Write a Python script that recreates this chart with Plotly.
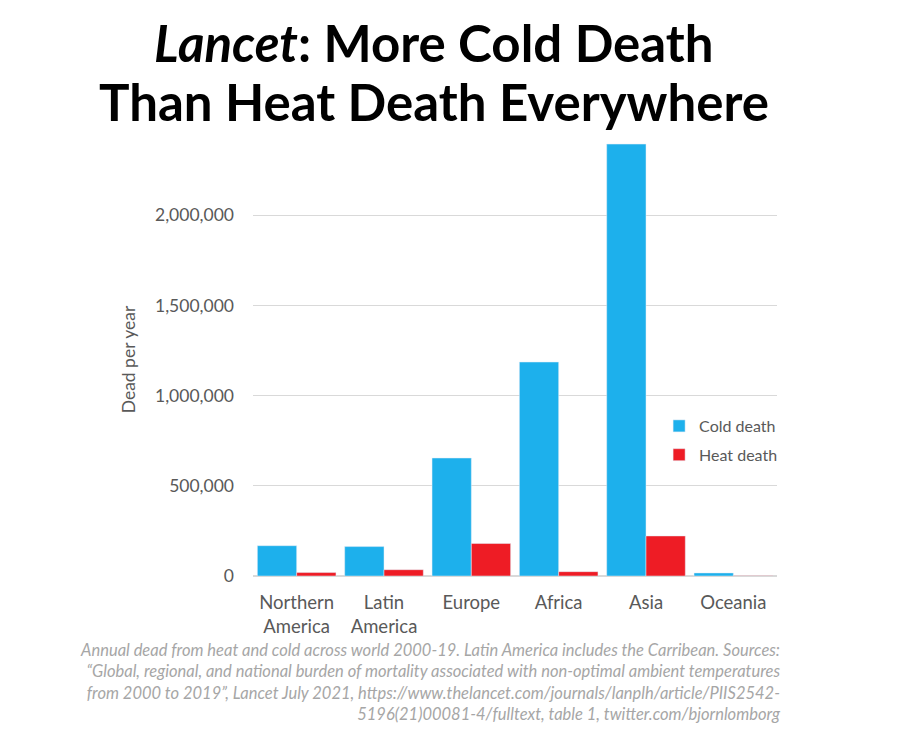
import plotly.graph_objects as go

regions = ["Northern<br>America", "Latin<br>America", "Europe", "Africa", "Asia", "Oceania"]
cold_death = [168000, 163000, 654000, 1186000, 2394000, 17000]
heat_death = [19000, 35000, 180000, 24000, 222000, 1000]
y_ticks = [0, 500000, 1000000, 1500000, 2000000]

grey = "#595959"

# page body adds ~8px, so the figure is drawn slightly smaller than the window
W, H = 892, 730
L, R, T, B = 245, 123, 135, 162
plot_w = W - L - R
plot_h = H - T - B


def px_x(p):
    return (p - L) / plot_w


def px_y(p):
    return (H - B - p) / plot_h


fig = go.Figure()
fig.add_bar(x=regions, y=cold_death, name="Cold death", marker_color="#1DB0EC",
            legendgroup="cold")
fig.add_bar(x=regions, y=heat_death, name="Heat death", marker_color="#EE1C25",
            legendgroup="heat")

fig.update_layout(
    width=W,
    height=H,
    barmode="group",
    bargap=0.1,
    bargroupgap=0,
    plot_bgcolor="white",
    paper_bgcolor="white",
    font=dict(family="Lato", color=grey, size=17),
    margin=dict(l=L, r=R, t=T, b=B),
    legend=dict(
        x=0.775, y=px_y(401), xanchor="left", yanchor="top",
        font=dict(size=16, color=grey),
        bgcolor="rgba(0,0,0,0)",
        traceorder="grouped",
        tracegroupgap=5,
    ),
    showlegend=True,
)

fig.update_yaxes(
    range=[0, 2400000],
    tickvals=y_ticks,
    tickformat=",",
    showgrid=True,
    gridcolor="#d9d9d9",
    zeroline=True,
    zerolinecolor="#d9d9d9",
    ticks="",
    ticklabelstandoff=18,
    tickfont=dict(size=17.5, color=grey),
    title=dict(text="Dead per year", font=dict(size=17.5, color=grey), standoff=14),
)
fig.update_xaxes(showline=False, ticks="", ticklabelstandoff=13,
                 tickfont=dict(size=18.5, color=grey))

# title, two lines
title_font = dict(family="Lato", size=51, color="black", weight="bold")
fig.add_annotation(text="<i>Lancet</i>: More Cold Death", xref="paper", yref="paper",
                   x=px_x(426), y=px_y(34), xanchor="center", yanchor="middle",
                   showarrow=False, font=title_font)
fig.add_annotation(text="Than Heat Death Everywhere", xref="paper", yref="paper",
                   x=px_x(426), y=px_y(93), xanchor="center", yanchor="middle",
                   showarrow=False, font=title_font)

fig.add_annotation(
    text="<i>Annual dead from heat and cold across world 2000-19. Latin America includes the Carribean. Sources:<br>"
         "\u201cGlobal, regional, and national burden of mortality associated with non-optimal ambient temperatures<br>"
         "from 2000 to 2019\u201d, Lancet July 2021, https://www.thelancet.com/journals/lanplh/article/PIIS2542-<br>"
         "5196(21)00081-4/fulltext, table 1, twitter.com/bjornlomborg</i>",
    xref="paper", yref="paper",
    x=px_x(775), y=px_y(630), xanchor="right", yanchor="top",
    align="right", showarrow=False,
    font=dict(size=16.5, color="#a6a6a6"),
)

fig.write_html("out.html")
